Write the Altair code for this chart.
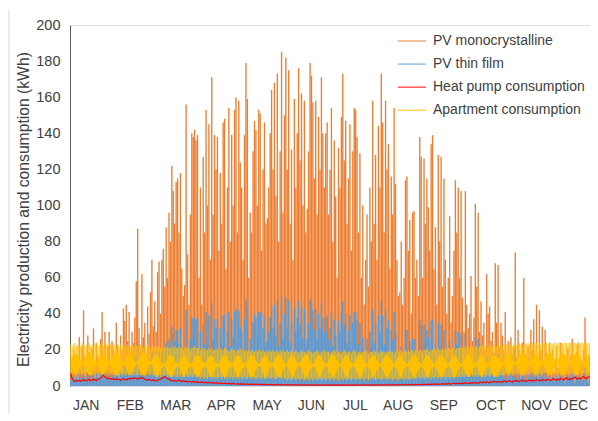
import altair as alt
import pandas as pd

# ---------------- labels ----------------
months = ["JAN", "FEB", "MAR", "APR", "MAY", "JUN", "JUL", "AUG", "SEP", "OCT", "NOV", "DEC"]
month_label_pos = [11, 42, 74, 106, 138, 169, 200, 230, 262, 295, 327, 353]
y_ticks = [0, 20, 40, 60, 80, 100, 120, 140, 160, 180, 200]
series_names = ["PV monocrystalline", "PV thin film", "Heat pump consumption", "Apartment consumption"]
series_colors = ["#ED7D31", "#5B9BD5", "#FF0000", "#FFC000"]

# ---------------- PV monocrystalline: daily peak (kWh) ----------------
mono_jan = [8, 15, 20, 12, 18, 10, 27, 14, 22, 42, 16, 11, 28, 19, 9, 21, 32, 13, 24, 17, 12, 26, 41, 18, 30, 15, 22, 30, 14, 25, 20]
mono_feb = [18, 35, 22, 14, 28, 20, 43, 36, 45, 25, 41, 19, 30, 24, 38, 58, 87, 32, 21, 62, 27, 35, 18, 44, 29, 52, 70, 33]
mono_mar = [47, 30, 63, 69, 40, 70, 76, 55, 88, 60, 96, 80, 122, 108, 90, 113, 115, 85, 118, 65, 50, 56, 156, 73, 45, 95, 140, 138, 142, 136, 139]
mono_apr = [60, 110, 45, 127, 85, 153, 100, 145, 70, 171, 95, 139, 120, 138, 75, 118, 90, 146, 148, 65, 110, 154, 80, 139, 100, 153, 160, 85, 158, 124]
mono_may = [110, 70, 139, 179, 159, 60, 96, 85, 130, 147, 142, 100, 153, 151, 75, 120, 146, 90, 93, 110, 140, 164, 120, 168, 105, 173, 80, 130, 185, 96, 150]
mono_jun = [182, 120, 175, 90, 131, 70, 159, 110, 140, 176, 125, 162, 100, 158, 85, 98, 130, 179, 172, 157, 115, 158, 95, 149, 120, 171, 140, 110, 140, 146]
mono_jul = [95, 120, 154, 80, 136, 105, 60, 132, 110, 149, 173, 125, 147, 90, 115, 145, 75, 130, 154, 153, 138, 85, 129, 60, 100, 45, 70, 95, 55, 110, 80]
mono_aug = [158, 90, 128, 70, 144, 110, 173, 146, 85, 158, 120, 134, 65, 116, 95, 154, 112, 70, 50, 52, 80, 45, 60, 114, 116, 75, 92, 40, 96, 97, 60]
mono_sep = [70, 50, 138, 127, 60, 126, 90, 115, 99, 75, 134, 139, 65, 88, 45, 128, 80, 127, 55, 115, 70, 40, 60, 94, 35, 50, 75, 114, 85, 110]
mono_oct = [60, 108, 49, 30, 108, 45, 32, 40, 61, 25, 38, 101, 55, 96, 30, 47, 28, 35, 20, 62, 40, 44, 25, 30, 18, 68, 35, 67, 22, 35, 28]
mono_nov = [20, 41, 15, 25, 12, 27, 18, 22, 74, 16, 31, 20, 14, 24, 60, 18, 12, 22, 15, 31, 20, 37, 18, 45, 14, 42, 20, 33, 12, 31]
mono_dec = [18, 10, 24, 12, 20, 8, 15, 22, 10, 16, 24, 12, 18, 9, 14, 21, 11, 17, 26, 13, 8, 19, 24, 10, 15, 12, 20, 38, 14, 9, 16]

# ---------------- PV thin film: daily peak (kWh) ----------------
thin_jan = [3, 5, 6, 4, 5, 3, 8, 4, 6, 11, 5, 4, 8, 6, 3, 6, 9, 4, 7, 5, 4, 7, 11, 5, 8, 4, 6, 8, 4, 7, 6]
thin_feb = [5, 10, 6, 4, 8, 6, 12, 10, 12, 7, 11, 6, 8, 7, 10, 16, 23, 9, 6, 17, 8, 10, 5, 12, 8, 14, 19, 9]
thin_mar = [13, 8, 17, 19, 11, 19, 21, 15, 24, 17, 26, 22, 33, 29, 25, 31, 31, 23, 32, 18, 14, 16, 42, 20, 13, 26, 38, 37, 38, 37, 38]
thin_apr = [18, 30, 14, 34, 23, 41, 27, 39, 19, 46, 26, 37, 32, 37, 20, 32, 24, 39, 40, 18, 30, 41, 22, 37, 27, 41, 43, 23, 42, 33]
thin_may = [30, 19, 37, 48, 43, 17, 26, 23, 35, 40, 38, 27, 41, 41, 20, 32, 39, 24, 25, 30, 38, 44, 32, 45, 28, 47, 22, 35, 50, 26, 40]
thin_jun = [49, 32, 47, 24, 35, 19, 43, 30, 38, 47, 34, 44, 27, 43, 23, 26, 35, 48, 46, 42, 31, 43, 26, 40, 32, 46, 38, 30, 38, 39]
thin_jul = [26, 32, 41, 22, 37, 28, 16, 36, 30, 40, 47, 34, 40, 24, 31, 39, 20, 35, 41, 41, 37, 23, 35, 16, 27, 12, 19, 26, 15, 30, 22]
thin_aug = [42, 24, 35, 19, 39, 30, 47, 39, 23, 42, 32, 36, 18, 31, 26, 41, 30, 19, 14, 14, 22, 12, 16, 31, 31, 20, 25, 11, 26, 26, 16]
thin_sep = [19, 14, 37, 34, 16, 34, 24, 31, 27, 20, 36, 37, 18, 24, 12, 35, 22, 34, 15, 31, 19, 11, 16, 25, 10, 14, 20, 31, 23, 30]
thin_oct = [16, 29, 13, 8, 29, 12, 9, 11, 16, 7, 10, 27, 15, 26, 8, 13, 8, 9, 5, 17, 11, 12, 7, 8, 5, 18, 9, 18, 6, 9, 8]
thin_nov = [5, 11, 4, 7, 3, 7, 5, 6, 20, 4, 8, 5, 4, 6, 16, 5, 3, 6, 4, 8, 5, 10, 5, 12, 4, 11, 5, 9, 3, 8]
thin_dec = [5, 3, 6, 3, 5, 2, 4, 6, 3, 4, 6, 3, 5, 2, 4, 6, 3, 5, 7, 3, 2, 5, 6, 3, 4, 3, 5, 10, 4, 2, 4]

# ---------------- Heat pump consumption: daily level (kWh) ----------------
heat_jan = [7, 4, 3, 2.5, 3, 2.8, 3.2, 2.6, 3, 3.5, 3.1, 2.8, 3.3, 3.6, 3, 3.2, 3.8, 3.4, 3, 3.6, 4, 4.4, 5.2, 6, 5.1, 4.5, 4, 4.3, 3.8, 4.1, 3.9]
heat_feb = [3.6, 4, 3.5, 3.8, 3.2, 3.6, 4.1, 3.7, 3.4, 3.9, 4.2, 3.8, 4.4, 4, 4.6, 4.2, 3.9, 4.5, 4.1, 4.8, 4.3, 3.8, 3.5, 3.2, 3.6, 3.3, 3, 3.4]
heat_mar = [3.1, 2.8, 3.2, 3.5, 3.9, 4.2, 4.8, 5.2, 4.6, 4.2, 3.8, 3.4, 3, 2.7, 3.1, 2.6, 2.9, 3.3, 2.8, 2.5, 2.9, 2.4, 2.7, 2.2, 2.6, 2.3, 2.1, 2.5, 2.2, 2.4, 2]
heat_apr = [2.2, 1.9, 2.3, 2, 1.8, 2.1, 1.7, 2, 1.8, 1.6, 1.9, 1.5, 1.8, 1.6, 1.4, 1.7, 1.5, 1.3, 1.6, 1.4, 1.2, 1.5, 1.3, 1.1, 1.4, 1.2, 1.1, 1.3, 1, 1.2]
heat_may = [1, 1.2, 0.9, 1.1, 1, 0.8, 1.1, 0.9, 1, 0.8, 1, 0.9, 0.7, 1, 0.8, 0.9, 0.7, 0.9, 0.8, 0.7, 0.9, 0.8, 0.6, 0.8, 0.7, 0.9, 0.7, 0.6, 0.8, 0.7, 0.6]
heat_jun = [0.7, 0.6, 0.8, 0.6, 0.7, 0.5, 0.7, 0.6, 0.5, 0.7, 0.6, 0.5, 0.7, 0.6, 0.5, 0.6, 0.7, 0.5, 0.6, 0.5, 0.7, 0.6, 0.5, 0.6, 0.5, 0.7, 0.6, 0.5, 0.6, 0.5]
heat_jul = [0.6, 0.5, 0.7, 0.5, 0.6, 0.5, 0.6, 0.5, 0.7, 0.5, 0.6, 0.5, 0.6, 0.5, 0.6, 0.7, 0.5, 0.6, 0.5, 0.6, 0.5, 0.7, 0.6, 0.5, 0.6, 0.5, 0.6, 0.7, 0.5, 0.6, 0.5]
heat_aug = [0.6, 0.5, 0.7, 0.6, 0.5, 0.6, 0.7, 0.5, 0.6, 0.7, 0.6, 0.5, 0.7, 0.6, 0.8, 0.6, 0.7, 0.5, 0.7, 0.6, 0.8, 0.7, 0.6, 0.8, 0.7, 0.6, 0.8, 0.7, 0.9, 0.7, 0.8]
heat_sep = [0.8, 0.9, 0.7, 0.9, 0.8, 1, 0.8, 0.9, 1.1, 0.8, 1, 0.9, 1.1, 0.9, 1.2, 1, 0.9, 1.1, 1.3, 1, 1.2, 1.1, 1.4, 1.2, 1, 1.3, 1.5, 1.2, 1.4, 1.3]
heat_oct = [1.5, 1.2, 1.6, 1.4, 1.8, 1.5, 1.3, 1.7, 1.5, 1.9, 1.6, 2, 1.7, 1.5, 1.9, 2.2, 1.8, 2.1, 1.9, 2.4, 2, 1.8, 2.3, 2.1, 2.6, 2.2, 2, 2.5, 2.3, 2.1, 2.6]
heat_nov = [2.4, 2.8, 2.3, 2.6, 3, 2.5, 2.2, 2.7, 3.1, 2.6, 2.9, 2.4, 2.8, 3.3, 2.7, 3, 2.5, 2.9, 3.4, 2.8, 3.2, 2.7, 3.1, 3.6, 3, 3.3, 2.9, 3.5, 3.1, 3.4]
heat_dec = [3.2, 3.8, 3.3, 3, 3.6, 4.1, 3.5, 3.2, 3.9, 3.4, 4.3, 3.7, 3.3, 4, 4.6, 3.8, 3.4, 4.2, 3.7, 4.5, 5, 4.2, 3.8, 4.4, 3.9, 4.8, 5.3, 4.5, 4, 4.7, 5.5]

# ---------------- Apartment consumption: daily max / night min (kWh) ----------------
aptmax_jan = [23, 22, 23, 24, 22, 23, 23, 22, 24, 23, 22, 23, 23, 24, 22, 23, 22, 23, 24, 23, 22, 23, 23, 22, 24, 23, 22, 23, 23, 22, 23]
aptmax_feb = [23, 22, 23, 22, 23, 22, 22, 23, 22, 23, 22, 22, 23, 22, 22, 23, 22, 22, 23, 22, 21, 22, 22, 23, 22, 21, 22, 22]
aptmax_mar = [22, 21, 22, 22, 21, 22, 21, 22, 21, 22, 21, 21, 22, 21, 22, 21, 21, 22, 21, 21, 20, 21, 22, 21, 21, 20, 21, 21, 22, 21, 21]
aptmax_apr = [21, 20, 21, 20, 21, 20, 20, 21, 20, 21, 20, 20, 21, 20, 20, 21, 20, 20, 21, 20, 20, 19, 20, 21, 20, 20, 19, 20, 20, 21]
aptmax_may = [20, 19, 20, 20, 19, 20, 19, 20, 20, 19, 20, 19, 20, 20, 19, 20, 19, 19, 20, 19, 20, 19, 20, 19, 19, 20, 19, 20, 19, 20, 19]
aptmax_jun = [19, 20, 19, 19, 20, 19, 19, 20, 19, 18, 19, 20, 19, 19, 18, 19, 20, 19, 19, 18, 19, 19, 20, 19, 18, 19, 19, 20, 19, 19]
aptmax_jul = [19, 18, 19, 19, 20, 19, 18, 19, 19, 18, 19, 20, 19, 18, 19, 19, 18, 19, 20, 19, 18, 19, 19, 18, 19, 19, 20, 19, 18, 19, 19]
aptmax_aug = [19, 20, 19, 19, 18, 19, 20, 19, 19, 18, 19, 19, 20, 19, 19, 18, 19, 20, 19, 19, 20, 19, 19, 20, 19, 20, 19, 20, 20, 19, 20]
aptmax_sep = [20, 19, 20, 20, 19, 20, 20, 21, 20, 19, 20, 20, 21, 20, 20, 21, 20, 20, 21, 20, 21, 20, 21, 21, 20, 21, 21, 20, 21, 21]
aptmax_oct = [21, 22, 21, 21, 22, 21, 22, 21, 22, 22, 21, 22, 22, 21, 22, 22, 23, 22, 22, 21, 22, 23, 22, 22, 23, 22, 22, 23, 22, 23, 22]
aptmax_nov = [23, 22, 23, 23, 24, 23, 22, 23, 24, 23, 23, 24, 23, 22, 23, 24, 23, 24, 23, 23, 24, 23, 24, 24, 23, 24, 23, 24, 24, 23]
aptmax_dec = [24, 23, 24, 24, 23, 24, 24, 23, 24, 24, 23, 24, 23, 24, 24, 23, 24, 24, 23, 24, 24, 23, 24, 23, 24, 24, 23, 24, 24, 23, 24]

aptmin_jan = [7, 6, 7, 6, 7, 7, 6, 7, 6, 7, 6, 7, 7, 6, 7, 6, 7, 6, 7, 7, 6, 7, 6, 7, 6, 7, 7, 6, 7, 6, 7]
aptmin_feb = [6, 7, 6, 6, 7, 6, 7, 6, 6, 7, 6, 7, 6, 6, 7, 6, 6, 7, 6, 6, 7, 6, 6, 7, 6, 6, 7, 6]
aptmin_mar = [6, 5, 6, 6, 5, 6, 5, 6, 6, 5, 6, 5, 6, 5, 6, 5, 5, 6, 5, 6, 5, 5, 6, 5, 5, 6, 5, 5, 6, 5, 5]
aptmin_apr = [5, 4, 5, 5, 4, 5, 4, 5, 5, 4, 5, 4, 5, 4, 5, 5, 4, 5, 4, 5, 4, 5, 4, 5, 4, 5, 4, 5, 4, 5]
aptmin_may = [4, 4, 5, 4, 4, 5, 4, 4, 5, 4, 4, 4, 5, 4, 4, 5, 4, 4, 4, 5, 4, 4, 5, 4, 4, 4, 5, 4, 4, 5, 4]
aptmin_jun = [4, 3, 4, 4, 3, 4, 4, 3, 4, 4, 3, 4, 4, 3, 4, 4, 3, 4, 4, 3, 4, 4, 3, 4, 4, 3, 4, 4, 3, 4]
aptmin_jul = [4, 3, 4, 4, 3, 4, 4, 3, 4, 4, 3, 4, 4, 3, 4, 4, 3, 4, 4, 3, 4, 4, 3, 4, 4, 3, 4, 4, 3, 4, 4]
aptmin_aug = [4, 4, 3, 4, 4, 4, 3, 4, 4, 4, 3, 4, 4, 4, 3, 4, 4, 4, 3, 4, 4, 4, 3, 4, 4, 4, 3, 4, 4, 4, 4]
aptmin_sep = [4, 5, 4, 4, 5, 4, 4, 5, 4, 5, 4, 5, 4, 5, 5, 4, 5, 4, 5, 5, 4, 5, 5, 4, 5, 5, 4, 5, 5, 5]
aptmin_oct = [5, 5, 6, 5, 5, 6, 5, 5, 6, 5, 6, 5, 6, 5, 6, 6, 5, 6, 5, 6, 6, 5, 6, 6, 5, 6, 6, 5, 6, 6, 6]
aptmin_nov = [6, 6, 7, 6, 6, 7, 6, 7, 6, 7, 6, 7, 7, 6, 7, 6, 7, 7, 6, 7, 7, 6, 7, 7, 6, 7, 7, 6, 7, 7]
aptmin_dec = [7, 6, 7, 7, 6, 7, 7, 6, 7, 7, 6, 7, 7, 6, 7, 7, 6, 7, 7, 6, 7, 7, 6, 7, 7, 6, 7, 7, 6, 7, 7]

# dense core of the apartment band (low / high edge per day)
corelo_jan = [12, 10, 8, 6, 6, 8, 10, 11, 12, 12, 10, 8, 7, 6, 6, 8, 10, 11, 12, 12, 10, 8, 6, 6, 8, 10, 11, 12, 12, 10, 8]
corehi_jan = [14, 16, 17, 18, 18, 17, 15, 14, 13, 14, 15, 17, 18, 18, 18, 17, 15, 14, 13, 14, 16, 17, 18, 18, 17, 15, 14, 13, 14, 15, 17]
corelo_feb = [7, 6, 6, 8, 10, 11, 12, 12, 10, 8, 6, 6, 8, 10, 11, 12, 12, 10, 8, 7, 6, 6, 8, 10, 11, 12, 12, 10]
corehi_feb = [18, 18, 18, 17, 15, 14, 13, 14, 16, 17, 18, 18, 17, 15, 14, 13, 14, 15, 17, 18, 18, 18, 17, 15, 14, 13, 14, 16]
corelo_mar = [7, 5, 5, 7, 9, 10, 11, 11, 9, 7, 6, 5, 5, 7, 9, 10, 11, 11, 9, 7, 5, 5, 7, 9, 10, 11, 11, 9, 7, 6, 5]
corehi_mar = [16, 17, 17, 16, 14, 13, 12, 13, 14, 16, 17, 17, 17, 16, 14, 13, 12, 13, 15, 16, 17, 17, 16, 14, 13, 12, 13, 14, 16, 17, 17]
corelo_apr = [5, 7, 9, 10, 11, 11, 9, 7, 5, 5, 7, 9, 10, 11, 11, 9, 7, 6, 5, 5, 7, 9, 10, 11, 11, 9, 7, 5, 5, 7]
corehi_apr = [17, 16, 14, 13, 12, 13, 15, 16, 17, 17, 16, 14, 13, 12, 13, 14, 16, 17, 17, 17, 16, 14, 13, 12, 13, 15, 16, 17, 17, 16]
corelo_may = [9, 10, 11, 11, 9, 7, 6, 5, 5, 7, 9, 10, 11, 11, 9, 7, 5, 5, 7, 9, 10, 11, 11, 9, 7, 6, 5, 5, 7, 9, 10]
corehi_may = [14, 13, 12, 13, 14, 16, 17, 17, 17, 16, 14, 13, 12, 13, 15, 16, 17, 17, 16, 14, 13, 12, 13, 14, 16, 17, 17, 17, 16, 14, 13]
corelo_jun = [11, 11, 9, 7, 5, 5, 7, 9, 10, 11, 11, 9, 7, 6, 5, 5, 7, 9, 10, 11, 11, 9, 7, 5, 5, 7, 9, 10, 11, 11]
corehi_jun = [12, 13, 15, 16, 17, 17, 16, 14, 13, 12, 13, 14, 16, 17, 17, 17, 16, 14, 13, 12, 13, 15, 16, 17, 17, 16, 14, 13, 12, 13]
corelo_jul = [9, 7, 6, 5, 5, 7, 9, 10, 11, 11, 9, 7, 5, 5, 7, 9, 10, 11, 11, 9, 7, 6, 5, 5, 7, 9, 10, 11, 11, 9, 7]
corehi_jul = [14, 16, 17, 17, 17, 16, 14, 13, 12, 13, 15, 16, 17, 17, 16, 14, 13, 12, 13, 14, 16, 17, 17, 17, 16, 14, 13, 12, 13, 15, 16]
corelo_aug = [5, 5, 7, 9, 10, 11, 11, 9, 7, 6, 5, 5, 7, 9, 10, 11, 11, 9, 7, 5, 5, 7, 9, 10, 11, 11, 9, 7, 6, 5, 5]
corehi_aug = [17, 17, 16, 14, 13, 12, 13, 14, 16, 17, 17, 17, 16, 14, 13, 12, 13, 15, 16, 17, 17, 16, 14, 13, 12, 13, 14, 16, 17, 17, 17]
corelo_sep = [7, 9, 10, 11, 11, 9, 7, 5, 5, 7, 9, 10, 11, 11, 9, 7, 6, 5, 5, 7, 9, 10, 11, 11, 9, 7, 5, 5, 7, 9]
corehi_sep = [16, 14, 13, 12, 13, 15, 16, 17, 17, 16, 14, 13, 12, 13, 14, 16, 17, 17, 17, 16, 14, 13, 12, 13, 15, 16, 17, 17, 16, 14]
corelo_oct = [10, 11, 11, 9, 7, 6, 5, 5, 7, 9, 10, 11, 11, 9, 7, 5, 5, 7, 9, 10, 11, 11, 9, 7, 6, 5, 5, 7, 9, 10, 11]
corehi_oct = [13, 12, 13, 14, 16, 17, 17, 17, 16, 14, 13, 12, 13, 15, 16, 17, 17, 16, 14, 13, 12, 13, 14, 16, 17, 17, 17, 16, 14, 13, 12]
corelo_nov = [12, 10, 8, 6, 6, 8, 10, 11, 12, 12, 10, 8, 7, 6, 6, 8, 10, 11, 12, 12, 10, 8, 6, 6, 8, 10, 11, 12, 12, 10]
corehi_nov = [14, 16, 17, 18, 18, 17, 15, 14, 13, 14, 15, 17, 18, 18, 18, 17, 15, 14, 13, 14, 16, 17, 18, 18, 17, 15, 14, 13, 14, 15]
corelo_dec = [8, 7, 6, 6, 8, 10, 11, 12, 12, 10, 8, 6, 6, 8, 10, 11, 12, 12, 10, 8, 7, 6, 6, 8, 10, 11, 12, 12, 10, 8, 6]
corehi_dec = [17, 18, 18, 18, 17, 15, 14, 13, 14, 16, 17, 18, 18, 17, 15, 14, 13, 14, 15, 17, 18, 18, 18, 17, 15, 14, 13, 14, 16, 17, 18]


def year(*parts):
    out = []
    for p in parts:
        out += p
    assert len(out) == 365, len(out)
    return out


pv_mono = year(mono_jan, mono_feb, mono_mar, mono_apr, mono_may, mono_jun, mono_jul, mono_aug, mono_sep, mono_oct, mono_nov, mono_dec)
pv_thin = year(thin_jan, thin_feb, thin_mar, thin_apr, thin_may, thin_jun, thin_jul, thin_aug, thin_sep, thin_oct, thin_nov, thin_dec)
heat_pump = year(heat_jan, heat_feb, heat_mar, heat_apr, heat_may, heat_jun, heat_jul, heat_aug, heat_sep, heat_oct, heat_nov, heat_dec)
apt_max = year(aptmax_jan, aptmax_feb, aptmax_mar, aptmax_apr, aptmax_may, aptmax_jun, aptmax_jul, aptmax_aug, aptmax_sep, aptmax_oct, aptmax_nov, aptmax_dec)
apt_min = year(aptmin_jan, aptmin_feb, aptmin_mar, aptmin_apr, aptmin_may, aptmin_jun, aptmin_jul, aptmin_aug, aptmin_sep, aptmin_oct, aptmin_nov, aptmin_dec)
core_lo = year(corelo_jan, corelo_feb, corelo_mar, corelo_apr, corelo_may, corelo_jun, corelo_jul, corelo_aug, corelo_sep, corelo_oct, corelo_nov, corelo_dec)
core_hi = year(corehi_jan, corehi_feb, corehi_mar, corehi_apr, corehi_may, corehi_jun, corehi_jul, corehi_aug, corehi_sep, corehi_oct, corehi_nov, corehi_dec)

df = pd.DataFrame({
    "day": [d + 0.5 for d in range(365)],
    "mono": pv_mono,
    "thin": pv_thin,
    "heat": heat_pump,
    "apt_lo": apt_min,
    "apt_hi": apt_max,
    "core_lo": core_lo,
    "core_hi": core_hi,
})

FONT = "Liberation Sans"
TXT = "#404040"

color_scale = alt.Scale(domain=series_names, range=series_colors)
legend = alt.Legend(
    title=None, orient="none", legendX=327, legendY=1, padding=0,
    symbolType="stroke", symbolSize=784, symbolStrokeWidth=1.5, symbolOpacity=0.65,
    labelFontSize=14, labelFont=FONT, labelColor=TXT, labelOffset=6, rowPadding=1.1,
)

label_expr = "[" + ",".join("'%s'" % m for m in months) + "][indexof([" + ",".join(str(v) for v in month_label_pos) + "], datum.value)]"
x_axis = alt.Axis(values=month_label_pos, labelExpr=label_expr, title=None, grid=False, ticks=False,
                  domain=False, labelFontSize=14, labelFont=FONT, labelColor=TXT, labelPadding=12,
                  labelOverlap=False, labelFlush=False)
x_scale = alt.Scale(domain=[0, 365], nice=False, zero=False)
y_axis = alt.Axis(values=y_ticks, title="Electricity production and consumption (kWh)", grid=False,
                  ticks=False, domainColor="#595959", labelFontSize=14.5, labelFont=FONT, labelColor=TXT,
                  labelPadding=10, titleX=-47, titleY=184, titleAngle=270, titleAlign="center",
                  titleBaseline="middle", titleFontSize=15.7, titleFont=FONT, titleFontWeight="normal",
                  titleColor=TXT)
y_scale = alt.Scale(domain=[0, 200], nice=False)


def X():
    return alt.X("day:Q", scale=x_scale, axis=x_axis)


def Y(field):
    return alt.Y(field, type="quantitative", scale=y_scale, axis=y_axis)


def C():
    return alt.Color("series:N", scale=color_scale, legend=legend)


base = alt.Chart(df)

mono_layer = base.transform_calculate(series="'PV monocrystalline'").mark_rule(strokeWidth=1.35).encode(
    x=X(), y=Y("mono"), y2=alt.datum(0), color=C())
thin_layer = base.transform_calculate(series="'PV thin film'").mark_rule(strokeWidth=1.5).encode(
    x=X(), y=Y("thin"), y2=alt.datum(0), color=C())
apt_layer = base.transform_calculate(series="'Apartment consumption'").mark_rule(strokeWidth=1.1, opacity=0.85).encode(
    x=X(), y=Y("apt_hi"), y2="apt_lo:Q", color=C())
core_layer = base.transform_calculate(series="'Apartment consumption'").mark_area(opacity=1).encode(
    x=X(), y=Y("core_hi"), y2="core_lo:Q", color=C())
heat_layer = base.transform_calculate(series="'Heat pump consumption'").mark_line(strokeWidth=1.2).encode(
    x=X(), y=Y("heat"), color=C())

frame_line = alt.Chart(pd.DataFrame({"k": [0]})).mark_rule(color="#D9D9D9", strokeWidth=1).encode(
    x=alt.value(-61), y=alt.value(-16), y2=alt.value(390))

chart = alt.layer(mono_layer, thin_layer, apt_layer, core_layer, heat_layer, frame_line).properties(
    width=520, height=361,
    autosize=alt.AutoSizeParams(type="none"),
    padding={"left": 62, "top": 17, "right": 0, "bottom": 27},
    background="white",
).configure_view(stroke="#9a9a9a", strokeWidth=1).configure(font=FONT).configure_legend(
    labelFontSize=14, labelFont=FONT, labelColor=TXT, symbolType="stroke", symbolSize=784,
    symbolStrokeWidth=1.5, rowPadding=1.1, labelOffset=6, padding=0,
)

chart.save("out.html", embed_options={"renderer": "svg", "actions": False})
